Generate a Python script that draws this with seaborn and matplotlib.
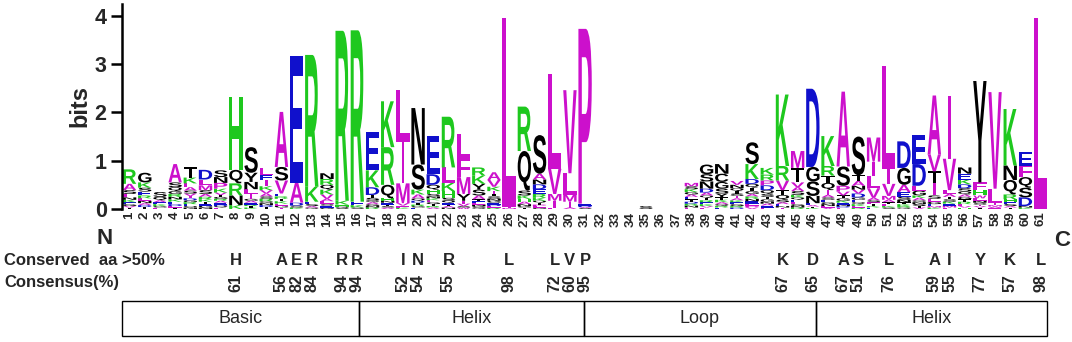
import matplotlib
matplotlib.use("Agg")
import matplotlib.pyplot as plt
import seaborn as sns
from matplotlib.textpath import TextPath
from matplotlib.patches import PathPatch, Rectangle
from matplotlib.font_manager import FontProperties
from matplotlib.transforms import Affine2D, blended_transform_factory

# letter heights (bits) per alignment position 1..61
stacks = [
    "R:.30 A:.13 S:.08 L:.07 K:.05 N:.05 G:.04 E:.04 T:.03 V:.03",          # 1
    "G:.20 K:.11 E:.08 S:.08 R:.06 N:.05 L:.05 T:.04 D:.04 A:.04",          # 2
    "S:.10 Q:.07 K:.04 E:.04 A:.04 L:.03 G:.03",                            # 3
    "A:.38 S:.10 Q:.08 R:.06 G:.06 E:.05 K:.05 N:.05 D:.04 T:.03 L:.03",    # 4
    "T:.22 K:.12 L:.08 A:.07 S:.06 I:.05 V:.05 E:.04 R:.04 G:.04 D:.04 N:.03 Q:.03",
    "D:.20 L:.12 M:.10 S:.08 A:.06 K:.05 R:.05 G:.04 E:.04 T:.04 N:.03",    # 6
    "S:.14 P:.12 N:.12 K:.08 V:.05 E:.04 A:.04 R:.04 G:.04 T:.04 L:.03 Q:.03 D:.03",
    "H:1.50 Q:.28 R:.25 N:.20 K:.08",                                       # 8
    "S:.53 Y:.19 N:.15 I:.10 L:.10 E:.04 A:.04 G:.04 K:.03 T:.03 R:.03",    # 9
    "L:.13 I:.12 E:.12 K:.08 V:.07 A:.06 R:.05 S:.05 T:.04 D:.04 N:.04 Q:.04",
    "A:1.14 S:.28 V:.27 E:.06 K:.05 T:.05 R:.05 G:.04 L:.04 I:.03",         # 11
    "E:2.63 A:.41 D:.06 S:.04 K:.03",                                       # 12
    "R:2.73 K:.31 E:.05 S:.04 Q:.03 A:.03",                                 # 13
    "R:.12 N:.12 K:.10 Q:.10 V:.09 L:.05 A:.05 E:.04 S:.04 G:.03",          # 14
    "R:3.52 K:.08 H:.04 Q:.03 S:.02",                                       # 15
    "R:3.55 E:.07 K:.05 S:.03",                                             # 16
    "E:.80 K:.35 D:.16 T:.06 S:.05 G:.04 A:.04 Q:.04 R:.03 N:.03",          # 17
    "K:.95 R:.78 Q:.28 H:.05 E:.04 N:.04 A:.03 S:.03 T:.03",                # 18
    "L:1.07 I:.86 M:.41 V:.05 F:.04 K:.03",                                 # 19
    "N:1.17 S:.52 K:.10 A:.08 Q:.05 T:.04 D:.04 E:.03 G:.03 R:.03",         # 20
    "E:.80 D:.22 Q:.10 H:.09 S:.05 T:.04 G:.04 L:.04 K:.04 N:.04 A:.03 R:.03",
    "R:1.05 L:.32 K:.17 H:.14 S:.06 E:.04 Q:.04 N:.03 A:.03 T:.03",         # 22
    "L:.50 F:.40 M:.35 Y:.14 I:.06 V:.05 W:.03 S:.03",                      # 23
    "K:.17 R:.17 S:.12 Y:.12 A:.08 E:.04 T:.04 Q:.03 G:.03 N:.03 L:.03",    # 24
    "A:.16 V:.14 K:.09 I:.06 S:.05 T:.05 E:.04 G:.04 N:.04 R:.03 L:.03 D:.03",
    "L:3.92 M:.02 I:.02",                                                   # 26
    "R:.92 Q:.82 S:.10 K:.07 H:.06 A:.05 N:.04 T:.03 G:.03",                # 27
    "S:.80 A:.12 E:.10 D:.10 N:.10 R:.08 K:.06 T:.04 Q:.04 G:.03 L:.03 P:.03",
    "L:1.97 V:.52 I:.14 M:.14 F:.03",                                       # 29
    "V:1.72 L:.45 M:.14 I:.12 A:.03",                                       # 30
    "P:3.62 E:.04 D:.03 S:.02 A:.02",                                       # 31
    "", "", "",                                                             # 32-34
    "S:.06",                                                                # 35
    "", "",                                                                 # 36-37
    "M:.07 K:.06 S:.06 T:.05 E:.05 A:.05 G:.05 N:.04 R:.04 D:.04 L:.03",    # 38
    "G:.20 N:.15 S:.15 D:.08 A:.06 T:.05 Q:.05 K:.04 E:.04 R:.04 L:.03 V:.03",
    "N:.20 C:.17 G:.14 S:.10 Y:.08 K:.05 T:.05 Q:.04 A:.04 E:.03 R:.03",    # 40
    "V:.08 N:.07 Q:.06 I:.05 S:.05 T:.05 G:.04 E:.04 K:.04 A:.04 D:.03 R:.03",
    "S:.45 K:.31 D:.10 Q:.08 T:.07 G:.06 E:.05 N:.05 R:.05 A:.05 P:.04 L:.04 V:.03",
    "K:.14 R:.12 D:.10 P:.10 Q:.08 S:.06 G:.05 T:.05 E:.04 A:.04 N:.04 L:.03",
    "K:1.48 R:.30 V:.20 Q:.10 T:.10 S:.05 E:.04 A:.04 I:.03 N:.03",         # 44
    "M:.35 T:.30 V:.10 S:.08 A:.08 E:.05 Q:.05 K:.05 G:.04 L:.04 R:.03 N:.03",
    "D:1.62 S:.30 G:.30 N:.15 E:.04 T:.03 A:.03 K:.02",                     # 46
    "K:.62 R:.20 Q:.15 T:.15 I:.10 E:.05 S:.05 A:.05 N:.04 G:.04 V:.03 L:.03",
    "A:1.55 S:.40 P:.12 V:.08 T:.06 G:.05 E:.04 K:.04 L:.03 D:.03 N:.03",   # 48
    "S:.80 T:.12 A:.10 D:.08 V:.08 N:.08 E:.05 G:.05 K:.04 Q:.04 R:.03 L:.03",
    "M:.50 I:.30 L:.25 V:.20 A:.05 T:.04 F:.04 S:.04 E:.03 K:.03",          # 50
    "L:2.15 I:.30 V:.25 M:.08 A:.05 F:.04 T:.04 S:.03 K:.03",               # 51
    "D:.55 G:.35 A:.15 E:.10 S:.06 N:.05 K:.04 T:.04 Q:.03 R:.03",          # 52
    "E:.60 D:.45 G:.10 L:.10 A:.05 K:.05 S:.04 N:.04 Q:.04 V:.03 T:.03",    # 53
    "A:1.22 V:.35 I:.25 T:.25 S:.07 L:.06 G:.05 E:.04 K:.03 M:.03",         # 54
    "I:1.30 V:.65 L:.08 A:.06 S:.05 T:.05 M:.04 E:.04 K:.04 F:.03",         # 55
    "N:.13 E:.12 K:.10 D:.08 S:.07 Q:.06 R:.05 T:.05 G:.05 A:.05 L:.04 H:.03 V:.03",
    "Y:2.10 F:.15 H:.12 W:.06 L:.05 S:.04 N:.04 T:.03 V:.03 I:.03",         # 57
    "V:2.00 L:.30 I:.04 A:.03 M:.03 F:.02",                                 # 58
    "K:1.17 Q:.30 N:.30 R:.10 H:.06 S:.04 E:.04 T:.03 A:.03",               # 59
    "E:.28 F:.24 Q:.22 S:.20 D:.18 K:.03 N:.03",                            # 60
    "L:3.96",                                                               # 61
]

cons_pos = [8, 11, 12, 13, 15, 16, 19, 20, 22, 26, 29, 30, 31,
            44, 46, 48, 49, 51, 54, 55, 57, 59, 61]
cons_aa = list("HAERRRINRLLVPKDASLAIYKL")
cons_pct = [61, 56, 82, 84, 94, 94, 52, 54, 55, 98, 72, 60, 95,
            67, 65, 67, 51, 76, 59, 55, 77, 57, 98]

regions = ["Basic", "Helix", "Loop", "Helix"]
region_edges = [0.5, 16.1, 30.9, 46.2, 61.4]

aa_colors = {}
for a in "KRH":
    aa_colors[a] = "#1ec81e"
for a in "DE":
    aa_colors[a] = "#1010cc"
for a in "AVLIPWFM":
    aa_colors[a] = "#cc10cc"
for a in "GSTYCNQ":
    aa_colors[a] = "#000000"

sns.set_theme(style="white")
plt.rcParams["font.family"] = ["Liberation Sans", "DejaVu Sans"]

fig = plt.figure(figsize=(10.72, 3.42), dpi=100)
ax = fig.add_axes([0.1138, 0.389, 0.864, 0.6])

glyph_font = FontProperties(family="Liberation Sans", weight="bold")
glyphs = {}


def draw_letter(ax, letter, x, y0, h, width=0.88):
    if letter not in glyphs:
        glyphs[letter] = TextPath((0, 0), letter, size=1, prop=glyph_font)
    path = glyphs[letter]
    bb = path.get_extents()
    w = 0.18 if letter == "I" else width
    tr = (Affine2D().translate(-bb.x0, -bb.y0)
          .scale(w / bb.width, h / bb.height)
          .translate(x - w / 2, y0))
    ax.add_patch(PathPatch(tr.transform_path(path), lw=0,
                           fc=aa_colors[letter]))


for pos, col in enumerate(stacks, start=1):
    items = [(s.split(":")[0], float(s.split(":")[1])) for s in col.split()]
    items.sort(key=lambda t: t[1])
    y = 0.0
    for letter, h in items:
        draw_letter(ax, letter, pos, y, h)
        y += h

ax.set_xlim(0.5, 61.5)
ax.set_ylim(0, 4.25)
ax.set_yticks(range(5))
ax.set_yticklabels([str(i) for i in range(5)], fontsize=15.5, fontweight="bold")
ax.set_xticks(range(1, 62))
ax.set_xticklabels([str(i) for i in range(1, 62)], rotation=90,
                   fontsize=9.5, fontweight="bold")
ax.tick_params(axis="y", length=8, width=1.8, pad=3, color="black", left=True)
ax.tick_params(axis="x", length=0, pad=2)
ax.set_ylabel("bits", fontsize=17, fontweight="bold", labelpad=2)
sns.despine(ax=ax, bottom=True)
ax.spines["left"].set_linewidth(1.8)
ax.spines["left"].set_color("black")

# annotation rows below the logo
tr = blended_transform_factory(ax.transData, fig.transFigure)
fig.text(0.098, 0.304, "N", fontsize=16, fontweight="bold", ha="center", va="center")
fig.text(0.991, 0.298, "C", fontsize=16, fontweight="bold", ha="center", va="center")
fig.text(0.004, 0.237, "Conserved  aa >50%", fontsize=12, fontweight="bold", va="center")
fig.text(0.004, 0.173, "Consensus(%)", fontsize=12, fontweight="bold", va="center")
for p, a, c in zip(cons_pos, cons_aa, cons_pct):
    fig.text(p, 0.237, a, transform=tr, fontsize=12, fontweight="bold",
             ha="center", va="center")
    fig.text(p, 0.173, str(c), transform=tr, fontsize=11.5, fontweight="bold",
             ha="center", va="center", rotation=90)

y_lo, y_hi = 0.0175, 0.120
for i, name in enumerate(regions):
    x0, x1 = region_edges[i], region_edges[i + 1]
    fig.patches.append(Rectangle((x0, y_lo), x1 - x0, y_hi - y_lo, transform=tr,
                                 fill=False, ec="black", lw=1.0, figure=fig))
    fig.text((x0 + x1) / 2, (y_lo + y_hi) / 2, name, transform=tr,
             fontsize=13, ha="center", va="center")

fig.savefig("out.png", dpi=100)
